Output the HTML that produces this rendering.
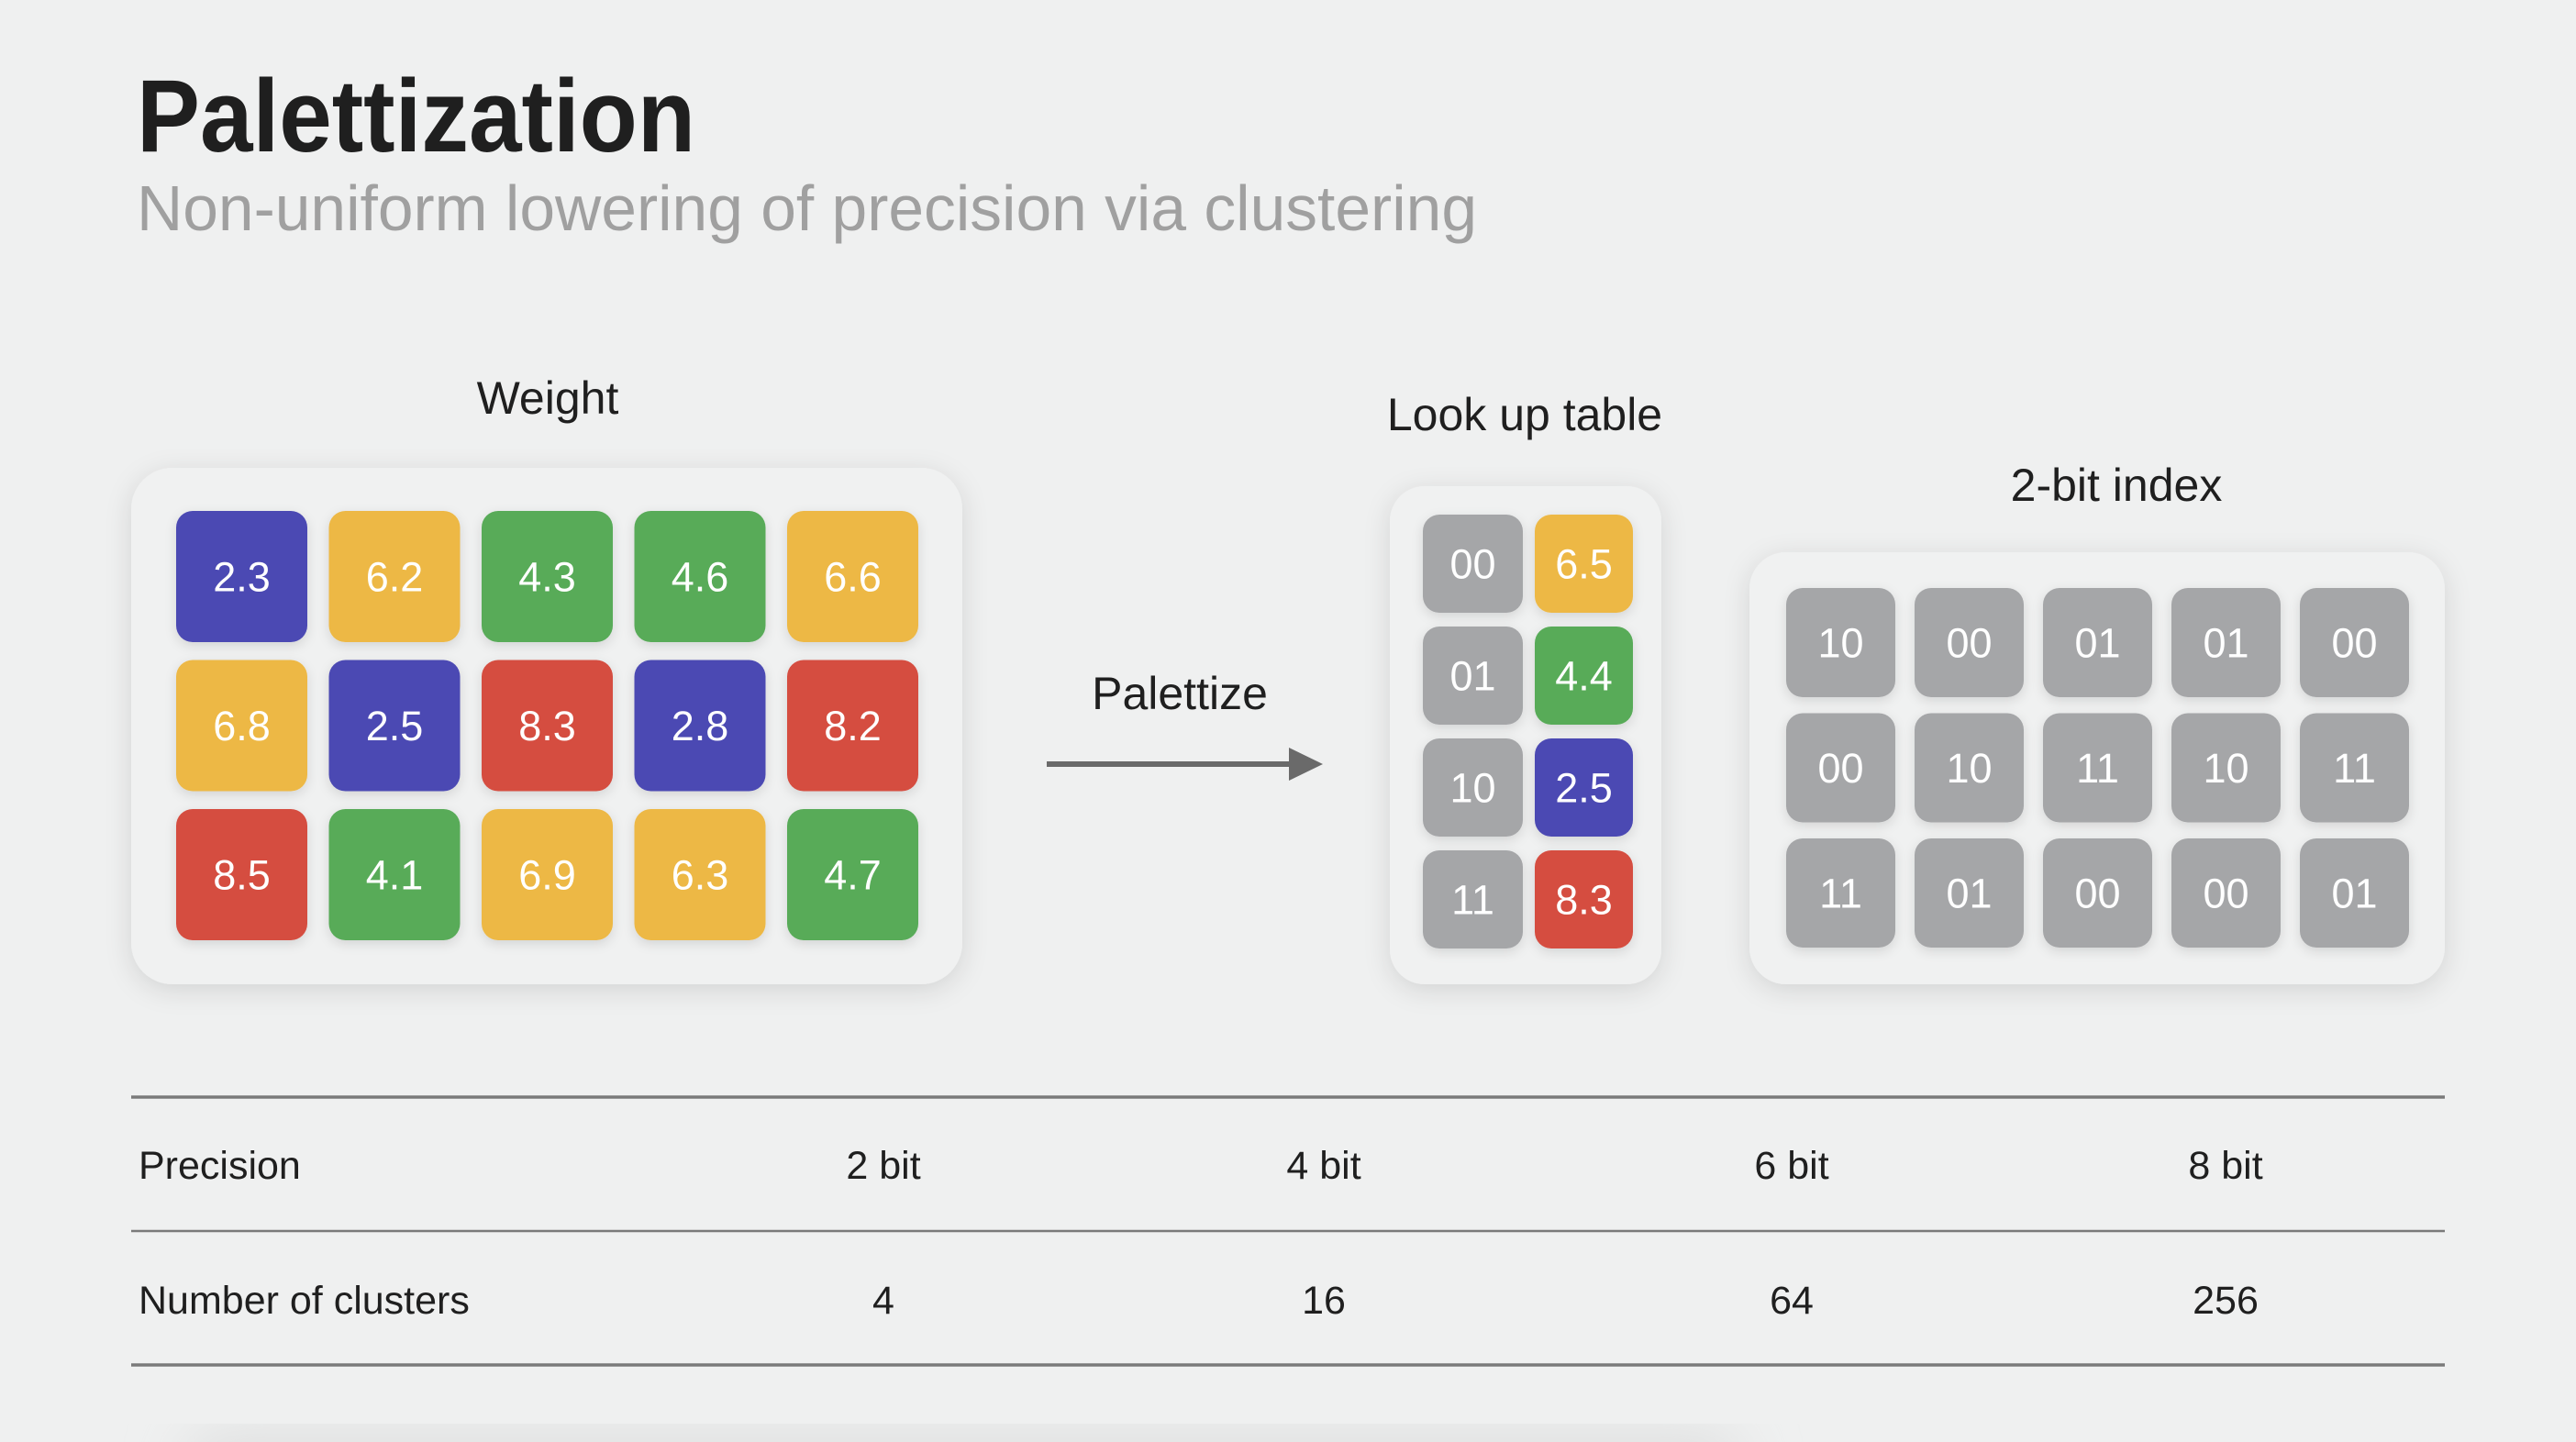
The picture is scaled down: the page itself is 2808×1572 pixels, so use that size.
<!DOCTYPE html>
<html><head><meta charset="utf-8"><style>
html,body{margin:0;padding:0;background:#eff0f0;}
svg{display:block;font-family:"Liberation Sans",sans-serif;}
</style></head><body>
<svg id="s" width="2808" height="1572" viewBox="0 0 2808 1572" xmlns="http://www.w3.org/2000/svg">
<defs>
<filter id="sh" x="-20%" y="-20%" width="140%" height="140%"><feDropShadow dx="0" dy="6" stdDeviation="14" flood-color="#000" flood-opacity="0.12"/></filter>
<filter id="ts" x="-30%" y="-30%" width="160%" height="160%"><feDropShadow dx="0" dy="4" stdDeviation="6" flood-color="#000" flood-opacity="0.12"/></filter>
<filter id="bl"><feGaussianBlur stdDeviation="30"/></filter>
</defs>
<rect width="2808" height="1572" fill="#eff0f0"/>
<rect x="200" y="1560" width="1700" height="80" rx="40" fill="#dfe0e0" filter="url(#bl)"/>
<text x="149" y="165" font-size="112" font-weight="bold" fill="#1f1f1f" textLength="609" lengthAdjust="spacingAndGlyphs">Palettization</text>
<text x="149" y="251" font-size="70" fill="#a0a0a0" textLength="1461" lengthAdjust="spacingAndGlyphs">Non-uniform lowering of precision via clustering</text>

<text x="597" y="451" font-size="50" fill="#1f1f1f" text-anchor="middle">Weight</text>
<rect x="143" y="510" width="906" height="563" rx="45" fill="#f0f1f1" filter="url(#sh)"/>
<g id="wg"></g>

<text x="1286" y="773" font-size="50" fill="#1f1f1f" text-anchor="middle">Palettize</text>
<line x1="1141" y1="833" x2="1412" y2="833" stroke="#6a6a6a" stroke-width="6"/>
<polygon points="1405,815 1442,833 1405,851" fill="#6a6a6a"/>

<text x="1662" y="469" font-size="50" fill="#1f1f1f" text-anchor="middle">Look up table</text>
<rect x="1515" y="530" width="296" height="543" rx="38" fill="#f0f1f1" filter="url(#sh)"/>
<g id="lg"></g>

<text x="2307" y="546" font-size="50" fill="#1f1f1f" text-anchor="middle">2-bit index</text>
<rect x="1907" y="602" width="758" height="471" rx="40" fill="#f0f1f1" filter="url(#sh)"/>
<g id="ig"></g>

<line x1="143" y1="1196" x2="2665" y2="1196" stroke="#7a7a7a" stroke-width="3.5"/>
<line x1="143" y1="1342" x2="2665" y2="1342" stroke="#7a7a7a" stroke-width="2.5"/>
<line x1="143" y1="1488" x2="2665" y2="1488" stroke="#7a7a7a" stroke-width="3.5"/>
<g id="tg"></g>
</svg>
<script>
const weightValues=[["2.3","6.2","4.3","4.6","6.6"],["6.8","2.5","8.3","2.8","8.2"],["8.5","4.1","6.9","6.3","4.7"]];
const weightClusters=[[2,0,1,1,0],[0,2,3,2,3],[3,1,0,0,1]];
const lutCodes=["00","01","10","11"];
const lutValues=["6.5","4.4","2.5","8.3"];
const indexCodes=[["10","00","01","01","00"],["00","10","11","10","11"],["11","01","00","00","01"]];
const precisions=["2 bit","4 bit","6 bit","8 bit"];
const clusterCounts=["4","16","64","256"];
const clusterColors=["#edb845","#58ab58","#4b4ab3","#d54e41"];
const NS="http://www.w3.org/2000/svg";
function tile(g,x,y,w,h,fill,label,name,fs){
  const r=document.createElementNS(NS,"rect");
  r.setAttribute("x",x);r.setAttribute("y",y);r.setAttribute("width",w);r.setAttribute("height",h);
  r.setAttribute("rx",18);r.setAttribute("fill",fill);r.setAttribute("filter","url(#ts)");
  
  
  g.appendChild(r);
  const t=document.createElementNS(NS,"text");
  t.setAttribute("x",x+w/2);t.setAttribute("y",y+h/2+fs*0.36);
  t.setAttribute("text-anchor","middle");t.setAttribute("font-size",fs);t.setAttribute("fill","#fff");
  t.textContent=label;
  
  
  g.appendChild(t);
}
const wg=document.getElementById("wg");
weightValues.forEach((row,ri)=>row.forEach((v,ci)=>{
  tile(wg,192+ci*166.5,557+ri*162.5,143,143,clusterColors[weightClusters[ri][ci]],v,"weight-tile",45);
}));
const lg=document.getElementById("lg");
lutCodes.forEach((c,i)=>{
  tile(lg,1551,561+i*122,109,107,"#a5a6a8",c,"lut-code-tile",45);
  tile(lg,1673,561+i*122,107,107,clusterColors[i],lutValues[i],"lut-value-tile",45);
});
const ig=document.getElementById("ig");
indexCodes.forEach((row,ri)=>row.forEach((c,ci)=>{
  tile(ig,1947+ci*140,641+ri*136.5,119,119,"#a5a6a8",c,"index-tile",45);
}));
const tg=document.getElementById("tg");
const colX=[963,1443,1953,2426];
function txt(x,y,s,anchor,name){
  const t=document.createElementNS(NS,"text");
  t.setAttribute("x",x);t.setAttribute("y",y);t.setAttribute("text-anchor",anchor);
  t.setAttribute("font-size",43);t.setAttribute("fill","#1f1f1f");t.textContent=s;
  
  
  tg.appendChild(t);
}
txt(151,1285,"Precision","start","precision-row-header");
txt(151,1432,"Number of clusters","start","clusters-row-header");
precisions.forEach((p,i)=>txt(colX[i],1285,p,"middle","precision-cell"));
clusterCounts.forEach((p,i)=>txt(colX[i],1432,p,"middle","clusters-cell"));
</script>
</body></html>
